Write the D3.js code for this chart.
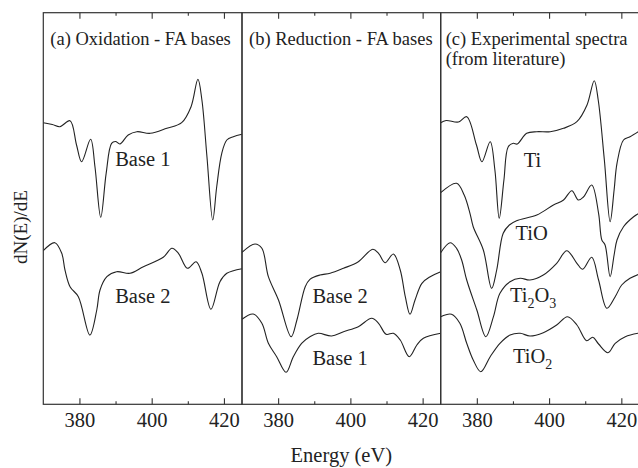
<!DOCTYPE html>
<html>
<head>
<meta charset="utf-8">
<script src="https://cdn.jsdelivr.net/npm/d3@7"></script>
<style>
  body { margin: 0; background: #fff; }
</style>
</head>
<body>
<div id="chart"></div>
<script>
// energy axis ticks
var majorTicks = [380, 400, 420];
var minorTicks = [390, 410];

// (a) oxidation FA bases - energy (eV) / dN(E)/dE (a.u.)
var oxBase1E = [370, 372.5, 374.6, 377.4, 379.2, 380.6, 383.1, 384.3, 385.9, 387.4, 388.9, 390.0, 391.2, 393.5, 395.9, 399.6, 404.2, 408.3, 410.9, 412.8, 413.9, 415.3, 416.9, 418.0, 419.4, 420.8, 422.6, 425];
var oxBase1 = [281.6, 279.8, 277.6, 283.6, 259.3, 242.6, 265.0, 237.6, 187.0, 231.0, 261.0, 262.8, 260.3, 269.3, 272.6, 271.0, 276.0, 281.6, 297.6, 325.0, 304.3, 247.6, 184.3, 217.6, 251.0, 264.3, 267.6, 270.0];
var oxBase2E = [370, 373.2, 375.1, 376.0, 377.4, 379.7, 382.9, 384.8, 385.7, 387.6, 390.3, 394.0, 397.7, 403.2, 405.6, 407.4, 409.9, 412.3, 413.9, 416.4, 418.9, 420.8, 425];
var oxBase2 = [153.6, 161.6, 151.0, 134.3, 117.6, 107.6, 69.3, 94.3, 114.3, 127.6, 132.6, 131.0, 137.6, 147.0, 156.0, 151.0, 136.0, 142.6, 131.0, 95.0, 122.6, 131.0, 135.6];

// (b) reduction FA bases
var redBase2E = [370, 373.6, 375.5, 377.3, 380.1, 383.6, 385.2, 387.5, 388.8, 391.6, 394.4, 398.1, 402.2, 406.2, 407.8, 409.6, 411.9, 413.8, 415.2, 416.5, 417.9, 419.8, 422.1, 425];
var redBase2 = [152.0, 160.3, 156.0, 127.6, 104.3, 67.6, 84.3, 117.6, 125.0, 129.3, 131.0, 136.0, 142.6, 155.0, 151.0, 141.6, 150.3, 134.3, 107.6, 90.0, 104.3, 121.0, 127.6, 132.6];
var redBase1E = [370, 373.1, 375.5, 377.3, 379.6, 382.2, 384.2, 386.5, 388.8, 391.1, 394.8, 398.1, 402.2, 405.9, 407.8, 409.9, 411.9, 413.8, 416.3, 418.4, 420.2, 425];
var redBase1 = [85.0, 90.3, 81.0, 61.0, 47.6, 32.0, 47.6, 61.0, 67.6, 71.0, 68.3, 72.6, 77.6, 86.0, 81.0, 70.0, 71.0, 64.3, 47.6, 59.3, 66.0, 71.0];

// (c) experimental spectra
var tiE = [370, 371.5, 374.9, 377.2, 379.9, 381.4, 383.7, 385.0, 386.2, 387.5, 388.7, 390.1, 391.2, 393.8, 396.6, 400.3, 404.0, 407.7, 410.5, 412.5, 413.6, 415.3, 416.9, 418.0, 418.8, 420.6, 422.4, 425];
var ti = [281.6, 283.8, 282.3, 287.6, 259.3, 242.6, 262.6, 234.3, 186.0, 224.3, 257.6, 261.0, 260.3, 271.0, 272.6, 272.6, 276.0, 282.6, 299.3, 323.6, 304.3, 244.3, 182.6, 214.3, 241.0, 264.3, 267.6, 273.3];
var tioE = [370, 374.4, 376.5, 378.1, 379.0, 381.8, 384.1, 385.5, 387.3, 389.0, 391.0, 396.6, 401.2, 404.0, 406.3, 408.1, 409.5, 411.8, 413.7, 414.6, 415.5, 416.9, 418.0, 418.8, 420.6, 423.4, 425];
var tio = [211.6, 221.0, 209.3, 191.0, 177.6, 154.3, 116.0, 134.3, 171.0, 179.3, 183.6, 189.3, 199.3, 204.3, 213.6, 204.3, 207.3, 219.3, 191.0, 164.3, 159.3, 127.6, 149.3, 164.3, 177.6, 187.6, 191.3];
var ti2o3E = [370, 372.6, 374.4, 375.8, 377.2, 380.0, 382.5, 384.6, 386.4, 389.2, 392.0, 394.7, 398.4, 402.1, 404.9, 407.7, 409.3, 411.8, 413.7, 416.0, 418.3, 420.1, 422.4, 425];
var ti2o3 = [151.6, 161.6, 156.0, 144.3, 124.3, 94.3, 67.6, 87.6, 111.0, 122.6, 126.0, 124.3, 129.3, 141.0, 153.6, 141.0, 135.0, 147.0, 124.3, 96.0, 107.6, 119.3, 126.0, 130.3];
var tio2E = [370, 373.0, 375.3, 377.2, 379.0, 381.1, 383.7, 386.4, 389.2, 392.0, 394.7, 398.4, 402.1, 405.1, 407.7, 410.4, 412.1, 413.7, 416.3, 418.3, 421.1, 425];
var tio2 = [87.6, 90.0, 81.0, 61.0, 44.3, 32.6, 47.6, 61.0, 69.3, 71.0, 68.3, 71.6, 79.3, 87.6, 79.3, 63.6, 67.0, 60.3, 51.6, 61.0, 67.6, 71.3];

// panels: titles, curves and where each curve's name sits (eV, a.u.)
// a name is a list of [text, subscript] pieces
var panels = [
    { title: ['(a) Oxidation - FA bases'],
      curves: [[oxBase1E, oxBase1], [oxBase2E, oxBase2]],
      labels: [{ t: [['Base 1']], e: 389.9, v: 238.6 }, { t: [['Base 2']], e: 389.9, v: 101 }] },
    { title: ['(b) Reduction - FA bases'],
      curves: [[redBase2E, redBase2], [redBase1E, redBase1]],
      labels: [{ t: [['Base 2']], e: 389.5, v: 101 }, { t: [['Base 1']], e: 389.5, v: 39.3 }] },
    { title: ['(c) Experimental spectra', '(from literature)'],
      curves: [[tiE, ti], [tioE, tio], [ti2o3E, ti2o3], [tio2E, tio2]],
      labels: [{ t: [['Ti']], e: 393.0, v: 237.6 }, { t: [['TiO']], e: 390.7, v: 164.3 },
               { t: [['Ti', '2'], ['O', '3']], e: 389.2, v: 102.6 }, { t: [['TiO', '2']], e: 390.0, v: 41 }] }
];

var serif = '"Liberation Serif", "Times New Roman", serif';
var ink = '#222';

var svgWidth = 638;
var svgHeight = 468;
var margin = { top: 12.7, left: 43.3 };
var panelWidth = 198.7;
var height = 391.6;

var svg = d3.select('#chart')
    .append('svg')
    .attr('width', svgWidth)
    .attr('height', svgHeight);

var xScale = d3.scaleLinear().domain([370, 425]).range([0, panelWidth]);
var yScale = d3.scaleLinear().domain([0, 391.6]).range([height, 0]);

var line = d3.line()
    .x(d => xScale(d[0]))
    .y(d => yScale(d[1]))
    .curve(d3.curveCatmullRom.alpha(0.5));

panels.forEach(function(p, i) {
    var g = svg.append('g')
        .attr('transform', `translate(${margin.left + i * panelWidth}, ${margin.top})`);

    // curves
    p.curves.forEach(function(c) {
        g.append('path')
            .datum(c[0].map((e, k) => [e, c[1][k]]))
            .attr('d', line)
            .attr('fill', 'none')
            .attr('stroke', ink)
            .attr('stroke-width', 1.1);
    });

    // frame
    g.append('rect')
        .attr('width', panelWidth)
        .attr('height', height)
        .attr('fill', 'none')
        .attr('stroke', '#333')
        .attr('stroke-width', 1.2);

    // ticks point inward on top and bottom
    var bottomMajor = g.append('g')
        .attr('transform', `translate(0, ${height})`)
        .call(d3.axisBottom(xScale).tickValues(majorTicks).tickSize(-6).tickPadding(8.4).tickFormat(d3.format('d')));
    var bottomMinor = g.append('g')
        .attr('transform', `translate(0, ${height})`)
        .call(d3.axisBottom(xScale).tickValues(minorTicks).tickSize(-3).tickFormat(''));
    var topMajor = g.append('g')
        .call(d3.axisTop(xScale).tickValues(majorTicks).tickSize(-6).tickFormat(''));
    var topMinor = g.append('g')
        .call(d3.axisTop(xScale).tickValues(minorTicks).tickSize(-3).tickFormat(''));

    [bottomMajor, bottomMinor, topMajor, topMinor].forEach(function(a) {
        a.select('.domain').remove();
        a.selectAll('line').attr('stroke', '#333').attr('stroke-width', 1.1);
    });
    bottomMajor.selectAll('text')
        .style('font-family', serif)
        .style('font-size', '20.5px')
        .attr('fill', ink);

    // panel title
    p.title.forEach(function(t, k) {
        g.append('text')
            .attr('x', i == 2 ? 5 : 7)
            .attr('y', 32.5 + k * 19.5)
            .style('font-family', serif)
            .style('font-size', '18.5px')
            .attr('fill', ink)
            .text(t);
    });

    // curve names, with subscripts
    p.labels.forEach(function(l) {
        var txt = g.append('text')
            .attr('x', xScale(l.e))
            .attr('y', yScale(l.v))
            .style('font-family', serif)
            .style('font-size', '20.5px')
            .attr('fill', ink);
        var shift = 0;
        l.t.forEach(function(piece) {
            txt.append('tspan').attr('dy', -shift).text(piece[0]);
            shift = 0;
            if (piece[1]) {
                txt.append('tspan').attr('dy', 6).style('font-size', '14px').text(piece[1]);
                shift = 6;
            }
        });
    });
});

// axis titles
svg.append('text')
    .attr('x', margin.left + panelWidth * 1.5)
    .attr('y', 461.5)
    .attr('text-anchor', 'middle')
    .style('font-family', serif)
    .style('font-size', '20.5px')
    .attr('fill', ink)
    .text('Energy (eV)');

svg.append('text')
    .attr('transform', 'rotate(-90)')
    .attr('x', -227)
    .attr('y', 27)
    .attr('text-anchor', 'middle')
    .style('font-family', serif)
    .style('font-size', '19px')
    .attr('fill', ink)
    .text('dN(E)/dE');
</script>
</body>
</html>
